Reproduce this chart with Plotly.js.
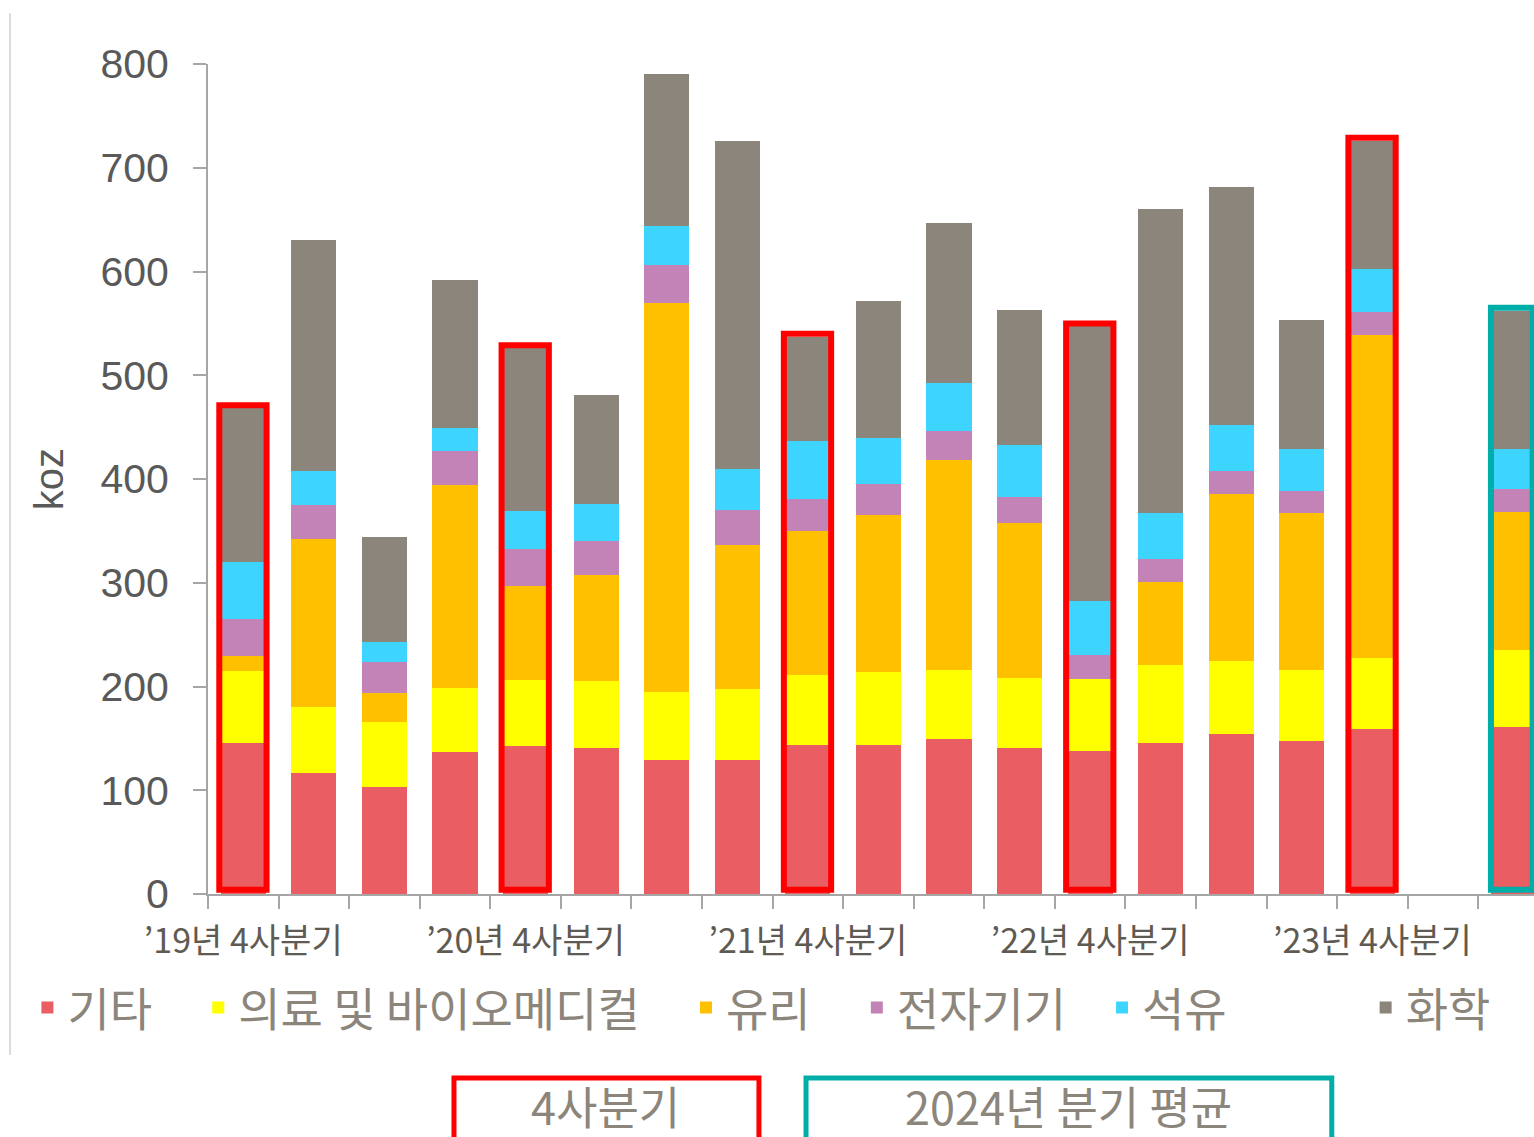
<!DOCTYPE html>
<html>
<head>
<meta charset="utf-8">
<script src="https://cdn.plot.ly/plotly-3.0.1.min.js"></script>
<style>html,body{margin:0;padding:0;background:#fff;}#chart{width:1534px;height:1137px;}</style>
</head>
<body>
<div id="chart"></div>
<script>
// Categories: quarters from '19 Q4 to '23 Q4, an empty slot, then 2024 quarterly average
var categories = [
  "’19년 4사분기", "’20년 1사분기", "’20년 2사분기", "’20년 3사분기", "’20년 4사분기",
  "’21년 1사분기", "’21년 2사분기", "’21년 3사분기", "’21년 4사분기",
  "’22년 1사분기", "’22년 2사분기", "’22년 3사분기", "’22년 4사분기",
  "’23년 1사분기", "’23년 2사분기", "’23년 3사분기", "’23년 4사분기",
  "빈칸", "2024년 분기 평균"
];
var tickLabels = [
  "’19년 4사분기", "", "", "", "’20년 4사분기", "", "", "", "’21년 4사분기",
  "", "", "", "’22년 4사분기", "", "", "", "’23년 4사분기", "", ""
];
var seriesNames = ["기타", "의료 및 바이오메디컬", "유리", "전자기기", "석유", "화학"];
var other      = [146, 117, 103, 137, 143, 141, 129, 129, 144, 144, 149, 141, 138, 146, 154, 147, 159, null, 161];
var medical    = [69, 63, 63, 62, 63, 64, 66, 69, 67, 70, 67, 67, 69, 75, 71, 69, 68, null, 74];
var glass      = [14, 162, 28, 195, 91, 102, 375, 138, 139, 151, 202, 150, 0, 80, 161, 151, 312, null, 133];
var electrical = [36, 33, 30, 33, 36, 33, 36, 34, 31, 30, 28, 25, 23, 22, 22, 21, 22, null, 22];
var petroleum  = [55, 33, 19, 22, 36, 36, 38, 40, 56, 45, 47, 50, 52, 44, 44, 41, 41, null, 39];
var chemical   = [148, 222, 101, 143, 157, 105, 146, 316, 100, 132, 154, 130, 265, 293, 229, 124, 124, null, 133];
var q4Index = [0, 4, 8, 12, 16];
var avgIndex = [18];

var seriesValues = [other, medical, glass, electrical, petroleum, chemical];
var colors = ["#EA5D62", "#FFFF00", "#FFC000", "#C383B6", "#3DD5FF", "#8C857B"];
var legendPad = [4, 4, 4, 3, 13, 0];

var traces = seriesValues.map(function (vals, i) {
  return {
    type: "bar",
    name: seriesNames[i] + "\u00a0".repeat(legendPad[i]),
    x: categories,
    y: vals,
    marker: { color: colors[i], line: { width: 0 } },
    hoverinfo: "x+y"
  };
});

function total(i) {
  var s = 0;
  seriesValues.forEach(function (v) { s += v[i] || 0; });
  return s;
}

var shapes = [];
q4Index.forEach(function (i) {
  shapes.push({
    type: "rect", xref: "x", yref: "y", layer: "above",
    x0: i - 0.34, x1: i + 0.33, y0: 4, y1: total(i) + 3,
    line: { color: "#FF0000", width: 6 }, fillcolor: "rgba(0,0,0,0)"
  });
});
avgIndex.forEach(function (i) {
  shapes.push({
    type: "rect", xref: "x", yref: "y", layer: "above",
    x0: i - 0.32, x1: i + 0.27, y0: 4, y1: total(i) + 3,
    line: { color: "#00AEA9", width: 6 }, fillcolor: "rgba(0,0,0,0)"
  });
});
// left thin frame line
shapes.push({
  type: "line", xref: "paper", yref: "paper",
  x0: -0.1493, x1: -0.1493, y0: -0.194, y1: 1.061,
  line: { color: "#D0D0D0", width: 1.5 }
});
// bottom key boxes
shapes.push({
  type: "rect", xref: "paper", yref: "paper",
  x0: 0.1855, x1: 0.4155, y0: -0.32, y1: -0.2217,
  line: { color: "#FF0000", width: 5 }, fillcolor: "rgba(0,0,0,0)"
});
shapes.push({
  type: "rect", xref: "paper", yref: "paper",
  x0: 0.4510, x1: 0.8475, y0: -0.32, y1: -0.2217,
  line: { color: "#00AEA9", width: 5 }, fillcolor: "rgba(0,0,0,0)"
});

var annotations = [
  {
    xref: "paper", yref: "paper", x: 0.300, y: -0.2545, xanchor: "center", yanchor: "middle",
    text: "4사분기", showarrow: false,
    font: { family: "Noto Sans CJK KR", size: 45, color: "#8C857B" }
  },
  {
    xref: "paper", yref: "paper", x: 0.6486, y: -0.2545, xanchor: "center", yanchor: "middle",
    text: "2024년 분기 평균", showarrow: false,
    font: { family: "Noto Sans CJK KR", size: 45, color: "#8C857B" }
  }
];

var layout = {
  width: 1534, height: 1137,
  margin: { l: 208, r: 0, t: 64, b: 243 },
  paper_bgcolor: "#FFFFFF", plot_bgcolor: "#FFFFFF",
  barmode: "stack", bargap: 0.36,
  showlegend: true,
  legend: {
    orientation: "h", x: -0.1362, xanchor: "left", y: -0.137, yanchor: "middle",
    font: { family: "Noto Sans CJK KR", size: 46, color: "#8C857B" },
    traceorder: "normal", bgcolor: "rgba(0,0,0,0)"
  },
  xaxis: {
    type: "category", range: [-0.5, 18.29],
    tickmode: "array", tickvals: categories, ticktext: tickLabels,
    tickson: "boundaries", ticks: "outside", ticklen: 13, tickwidth: 2, tickcolor: "#A6A6A6",
    showline: true, linecolor: "#A6A6A6", linewidth: 2,
    showgrid: false, zeroline: false,
    tickangle: 0, ticklabelstandoff: 16,
    tickfont: { family: "Noto Sans CJK KR", size: 34, color: "#5F5A52" }
  },
  yaxis: {
    range: [0, 800], dtick: 100, tick0: 0,
    ticks: "outside", ticklen: 13, tickwidth: 2, tickcolor: "#A6A6A6",
    showline: true, linecolor: "#A6A6A6", linewidth: 2,
    showgrid: false, zeroline: false,
    ticklabelstandoff: 16,
    tickfont: { family: "Liberation Sans, Arial, sans-serif", size: 41, color: "#595959" },
    title: { text: "koz", standoff: 24, font: { family: "Liberation Sans, Arial, sans-serif", size: 40, color: "#595959" } }
  },
  shapes: shapes,
  annotations: annotations
};

Plotly.newPlot("chart", traces, layout, { displayModeBar: false, staticPlot: true });
</script>
</body>
</html>
